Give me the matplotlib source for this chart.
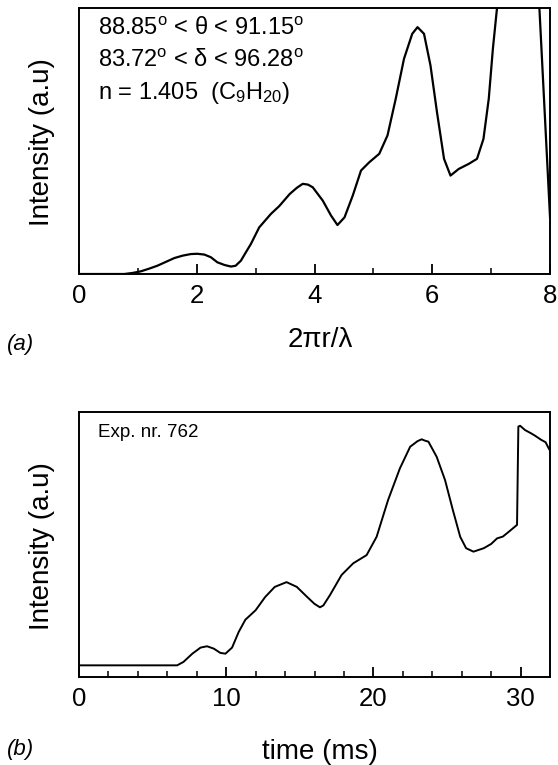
import numpy as np
import matplotlib
matplotlib.use("Agg")
import matplotlib.pyplot as plt
from matplotlib.ticker import MultipleLocator

plt.rcParams['font.family'] = ['Liberation Sans', 'DejaVu Sans']
plt.rcParams['mathtext.fontset'] = 'custom'
plt.rcParams['mathtext.rm'] = 'Liberation Sans'
plt.rcParams['mathtext.it'] = 'Liberation Sans:italic'

# (a) computed intensity vs size parameter 2*pi*r/lambda
size_param = [0.0, 0.77, 0.91, 1.05, 1.19, 1.33, 1.47, 1.62, 1.76, 1.90, 2.01, 2.13,
              2.24, 2.35, 2.47, 2.58, 2.66, 2.75, 2.83, 2.92, 3.06, 3.26, 3.40, 3.58,
              3.70, 3.80, 3.89, 3.97, 4.14, 4.28, 4.39, 4.51, 4.65, 4.79, 4.93, 5.10,
              5.24, 5.38, 5.52, 5.66, 5.75, 5.86, 5.97, 6.08, 6.20, 6.31, 6.45, 6.62,
              6.76, 6.87, 6.96, 7.03, 7.10, 7.20, 7.79, 8.0]
intens_a = [0.0, 0.0, 0.4, 1.0, 2.0, 3.1, 4.5, 6.0, 6.9, 7.5, 7.6, 7.3,
            6.3, 4.4, 3.4, 2.8, 3.1, 5.0, 8.0, 11.3, 17.5, 22.6, 25.5, 30.1,
            32.4, 33.9, 33.6, 32.6, 27.6, 22.0, 18.4, 21.3, 29.5, 38.9, 42.0, 45.2,
            52.1, 65.9, 80.9, 90.3, 92.8, 90.3, 78.4, 60.9, 43.3, 37.0, 39.5, 41.4,
            43.3, 50.8, 65.9, 84.7, 100.0, 118.0, 113.0, 21.5]

# (b) measured intensity vs time (Exp. nr. 762)
time_ms = [0.0, 3.0, 6.67, 7.1, 7.7, 8.26, 8.7, 9.16, 9.6, 9.95, 10.4, 10.85, 11.3,
           12.0, 12.65, 13.3, 14.1, 14.8, 15.5, 16.0, 16.37, 16.6, 17.05, 17.84,
           18.63, 19.54, 20.22, 21.0, 21.8, 22.5, 23.0, 23.28, 23.5, 23.74, 24.3,
           24.87, 25.4, 25.9, 26.3, 26.8, 27.5, 28.0, 28.4, 28.8, 29.2, 29.76, 29.85,
           29.97, 30.3, 30.7, 31.0, 31.4, 31.7, 31.9, 32.1]
intens_b = [4.4, 4.4, 4.4, 5.7, 8.8, 11.1, 11.6, 10.7, 9.1, 8.8, 11.1, 17.0, 21.6,
            25.2, 30.2, 34.0, 35.8, 34.0, 30.2, 27.6, 26.3, 27.0, 30.9, 38.5,
            42.9, 46.0, 52.9, 66.8, 78.7, 86.9, 89.0, 89.7, 89.2, 88.8, 83.1,
            74.3, 63.0, 52.9, 48.6, 47.3, 48.6, 50.2, 52.3, 53.0, 54.8, 57.4, 94.5,
            94.8, 93.2, 92.0, 91.0, 89.5, 88.6, 86.4, 84.5]

fig = plt.figure(figsize=(5.58, 7.65), dpi=100)
ax1 = fig.add_axes([79 / 558, 1 - 274 / 765, 471 / 558, 266 / 765])
ax2 = fig.add_axes([79 / 558, 1 - 677 / 765, 471 / 558, 265 / 765])

ax1.plot(size_param, intens_a, color='black', lw=1.6)
ax2.plot(time_ms, intens_b, color='black', lw=1.4)

ax1.set_xlim(0, 8)
ax1.set_ylim(0, 100)
ax2.set_xlim(0, 32)
ax2.set_ylim(0, 100)

ax1.xaxis.set_major_locator(MultipleLocator(2))
ax1.xaxis.set_minor_locator(MultipleLocator(1))
ax2.xaxis.set_major_locator(MultipleLocator(10))
ax2.xaxis.set_minor_locator(MultipleLocator(2))

for ax in (ax1, ax2):
    ax.set_yticks([])
    for s in ax.spines.values():
        s.set_linewidth(1.4)
    ax.tick_params(axis='x', which='major', direction='in', length=7, width=1.3,
                   labelsize=18.5, pad=7)
    ax.tick_params(axis='x', which='minor', direction='in', length=4, width=1.1)
    ax.set_ylabel('Intensity (a.u)', fontsize=20)
    ax.yaxis.set_label_coords(-0.05, 0.495)

ax1.set_xlabel('2πr/λ', fontsize=20, va='center')
ax1.xaxis.set_label_coords(0.512, -0.248)
ax2.set_xlabel('time (ms)', fontsize=20, va='center')
ax2.xaxis.set_label_coords(0.512, -0.283)

ax1.text(0.04, 0.921, r'88.85$^\mathrm{o}$ < θ < 91.15$^\mathrm{o}$',
         transform=ax1.transAxes, fontsize=17, va='center', ha='left')
ax1.text(0.04, 0.801, r'83.72$^\mathrm{o}$ < δ < 96.28$^\mathrm{o}$',
         transform=ax1.transAxes, fontsize=17, va='center', ha='left')
ax1.text(0.04, 0.680, r'n = 1.405  (C$_9$H$_{20}$)',
         transform=ax1.transAxes, fontsize=17, va='center', ha='left')

ax2.text(0.04, 0.921, 'Exp. nr. 762', transform=ax2.transAxes, fontsize=13.5,
         va='center', ha='left')

fig.text(7 / 558, 1 - 345 / 765, '(a)', style='italic', fontsize=16, va='center')
fig.text(7 / 558, 1 - 750 / 765, '(b)', style='italic', fontsize=16, va='center')

fig.savefig('out.png', dpi=100)
